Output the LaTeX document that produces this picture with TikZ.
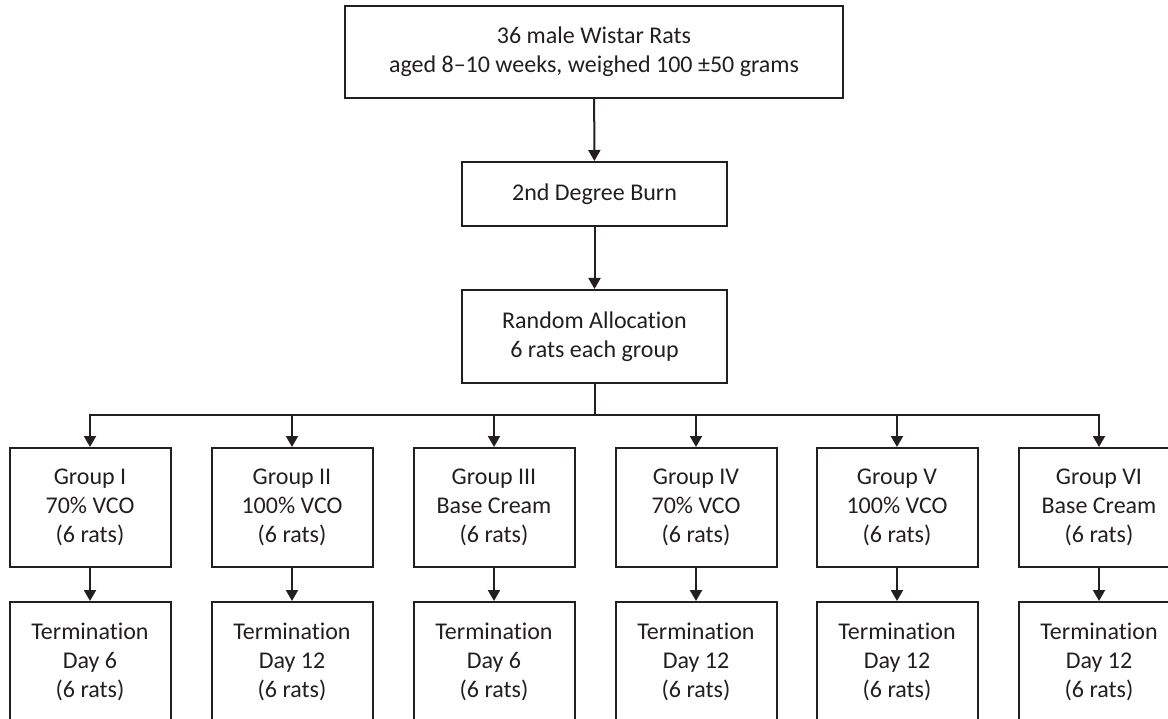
\documentclass[tikz,border=0pt]{standalone}
\usepackage{fontspec}
\setmainfont{Carlito}[Ligatures={NoCommon}]
\usetikzlibrary{arrows.meta}
\definecolor{ink}{HTML}{231F20}
\begin{document}
\begin{tikzpicture}[x=1pt,y=-1pt,
  box/.style={draw=ink,line width=2pt,fill=white,align=center,text=ink,
    font=\fontsize{24}{29}\selectfont,inner sep=0pt},
  grp/.style={box,minimum width=161pt,minimum height=119pt},
  arr/.style={draw=ink,line width=2pt,-{Triangle[width=12pt,length=11pt]}},
  ln/.style={draw=ink,line width=2pt}]
\useasboundingbox (0,0) rectangle (1168,719);
\clip (0,0) rectangle (1168,719);
\node[box,minimum width=498pt,minimum height=92pt] (top) at (594,52)
  {36 male Wistar Rats\\aged 8–10 weeks, weighed 100 ±50 grams};
\node[box,minimum width=265pt,minimum height=64pt] (burn) at (594.5,194)
  {2nd Degree Burn};
\node[box,minimum width=265pt,minimum height=93pt] (rand) at (594.5,336.5)
  {Random Allocation\\6 rats each group};
\coordinate (bus) at (594.5,415);
\node[grp] (g1) at (90,507.5) {Group I\\70\% VCO\\(6 rats)};
\node[grp] (g2) at (292,507.5) {Group II\\100\% VCO\\(6 rats)};
\node[grp] (g3) at (494,507.5) {Group III\\Base Cream\\(6 rats)};
\node[grp] (g4) at (696,507.5) {Group IV\\70\% VCO\\(6 rats)};
\node[grp] (g5) at (897,507.5) {Group V\\100\% VCO\\(6 rats)};
\node[grp] (g6) at (1099,507.5) {Group VI\\Base Cream\\(6 rats)};
\node[grp] (t1) at (90,661.5) {Termination\\Day 6\\(6 rats)};
\node[grp] (t2) at (292,661.5) {Termination\\Day 12\\(6 rats)};
\node[grp] (t3) at (494,661.5) {Termination\\Day 6\\(6 rats)};
\node[grp] (t4) at (696,661.5) {Termination\\Day 12\\(6 rats)};
\node[grp] (t5) at (897,661.5) {Termination\\Day 12\\(6 rats)};
\node[grp] (t6) at (1099,661.5) {Termination\\Day 12\\(6 rats)};
\draw[arr] (top) -- (burn);
\draw[arr] (burn) -- (rand);
\draw[ln] (rand) -- (bus);
\foreach \i in {1,...,6} {
  \draw[arr] (bus) -| (g\i);
  \draw[arr] (g\i) -- (t\i);
}
\end{tikzpicture}
\end{document}
